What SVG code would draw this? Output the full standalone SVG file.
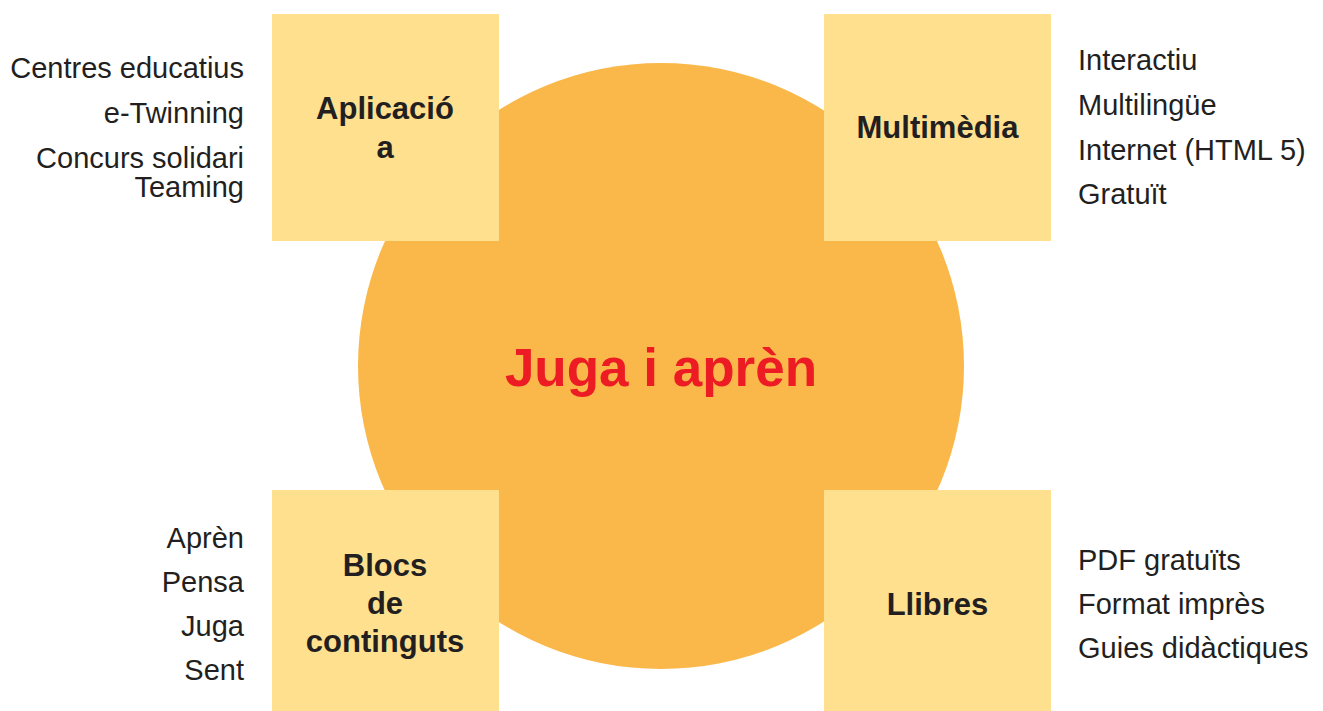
<svg xmlns="http://www.w3.org/2000/svg" width="1323" height="711" viewBox="0 0 1323 711">
<style>
.box{fill:#FEE08F}
.lbl{font-family:"Liberation Sans",Arial,sans-serif;font-weight:bold;font-size:31px;fill:#231F20;text-anchor:middle}
.side{font-family:"Liberation Sans",Arial,sans-serif;font-size:29px;fill:#231F20}
.r{text-anchor:end}
.title{font-family:"Liberation Sans",Arial,sans-serif;font-weight:bold;font-size:53px;fill:#ED1C24;text-anchor:middle}
</style>
<rect width="1323" height="711" fill="#FFFFFF"/>
<g id="center">
<circle cx="661" cy="366" r="303" fill="#FAB84B"/>
<text class="title" x="661" y="386">Juga i aprèn</text>
</g>
<g id="connectors"></g>
<g id="aplicacio">
<rect class="box" x="272" y="14" width="227" height="227"/>
<text class="lbl" x="385" y="119">Aplicació</text>
<text class="lbl" x="385" y="158">a</text>
<text class="side r" x="244" y="78">Centres educatius</text>
<text class="side r" x="244" y="123">e-Twinning</text>
<text class="side r" x="244" y="168">Concurs solidari</text>
<text class="side r" x="244" y="197">Teaming</text>
</g>
<g id="multimedia">
<rect class="box" x="824" y="14" width="227" height="227"/>
<text class="lbl" x="937.5" y="138">Multimèdia</text>
<text class="side" x="1078" y="70">Interactiu</text>
<text class="side" x="1078" y="115">Multilingüe</text>
<text class="side" x="1078" y="160">Internet (HTML 5)</text>
<text class="side" x="1078" y="204">Gratuït</text>
</g>
<g id="blocs">
<rect class="box" x="272" y="490" width="227" height="221"/>
<text class="lbl" x="385" y="576">Blocs</text>
<text class="lbl" x="385" y="614">de</text>
<text class="lbl" x="385" y="652">continguts</text>
<text class="side r" x="244" y="548">Aprèn</text>
<text class="side r" x="244" y="592">Pensa</text>
<text class="side r" x="244" y="636">Juga</text>
<text class="side r" x="244" y="680">Sent</text>
</g>
<g id="llibres">
<rect class="box" x="824" y="490" width="227" height="221"/>
<text class="lbl" x="937.5" y="615">Llibres</text>
<text class="side" x="1078" y="570">PDF gratuïts</text>
<text class="side" x="1078" y="614">Format imprès</text>
<text class="side" x="1078" y="658">Guies didàctiques</text>
</g>
</svg>
